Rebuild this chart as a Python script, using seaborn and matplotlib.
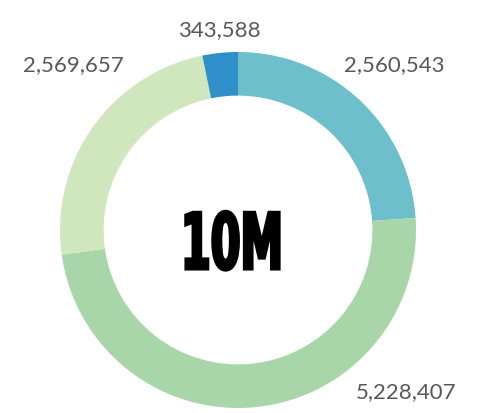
import matplotlib
matplotlib.use("Agg")
import matplotlib.pyplot as plt
import seaborn as sns
from matplotlib.patheffects import AbstractPathEffect
from matplotlib.transforms import Affine2D

# Segment values, clockwise from 12 o'clock
values = [2560543, 5228407, 2569657, 343588]
labels = ["2,560,543", "5,228,407", "2,569,657", "343,588"]
colors = ["#6cbfcb", "#a9d6a9", "#d0e7bd", "#2f8fc8"]
center_label = "10M"

W, H = 491, 413

sns.set_theme(style="white")
plt.rcParams["font.family"] = ["Lato", "DejaVu Sans"]


class Condense(AbstractPathEffect):
    """Narrow the glyphs horizontally around a display x and fatten strokes."""

    def __init__(self, sx, cx, lw):
        super().__init__()
        self.sx, self.cx, self.lw = sx, cx, lw

    def draw_path(self, renderer, gc, tpath, affine, rgbFace=None):
        aff = affine + Affine2D().translate(-self.cx, 0).scale(self.sx, 1).translate(self.cx, 0)
        gc0 = renderer.new_gc()
        gc0.copy_properties(gc)
        gc0.set_linewidth(self.lw)
        gc0.set_foreground(rgbFace)
        gc0.set_joinstyle("miter")
        renderer.draw_path(gc0, tpath, aff, rgbFace)
        gc0.restore()


fig = plt.figure(figsize=(W / 100, H / 100), dpi=100)
# ring centre at (238, 230) px, outer radius 178 px
cxr, cyr, r = 238, 230, 178
ax = fig.add_axes([(cxr - r) / W, (H - cyr - r) / H, 2 * r / W, 2 * r / H])

ax.pie(values, colors=colors, startangle=90, counterclock=False,
       radius=1.0, wedgeprops=dict(width=0.245, edgecolor="none"))
ax.set_xlim(-1, 1)
ax.set_ylim(-1, 1)
ax.set_aspect("auto")
ax.axis("off")

# Value labels placed around the ring (figure pixel anchors)
label_pos = [(394, 65), (406, 392), (73, 65), (219, 30)]
for txt, (px, py) in zip(labels, label_pos):
    fig.text(px / W, 1 - py / H, txt, ha="center", va="center",
             fontsize=16, color="#585858", fontweight="normal")

cx = 232
fig.text(cx / W, 1 - 247 / H, center_label, ha="center", va="center",
         fontsize=56, fontweight="bold", fontstretch="normal", color="black",
         family=["DejaVu Sans"],
         path_effects=[Condense(0.55, cx, 2.2)])

fig.savefig("out.png", dpi=100)
